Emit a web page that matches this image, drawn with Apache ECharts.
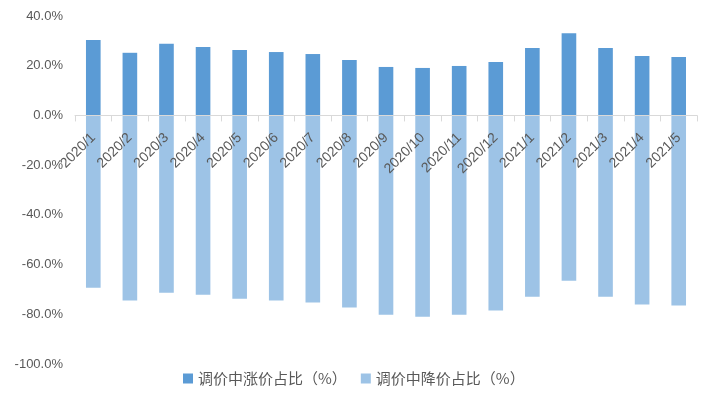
<!DOCTYPE html>
<html>
<head>
<meta charset="utf-8">
<script src="https://cdn.jsdelivr.net/npm/echarts@6/dist/echarts.min.js"></script>
<style>
  html, body { margin: 0; padding: 0; background: #fff; }
  #myChart { width: 709px; height: 397px; }
</style>
</head>
<body>
<div id="myChart"></div>
<script>
// 月份
var months = ['2020/1', '2020/2', '2020/3', '2020/4', '2020/5', '2020/6', '2020/7', '2020/8', '2020/9',
  '2020/10', '2020/11', '2020/12', '2021/1', '2021/2', '2021/3', '2021/4', '2021/5']
// 调价中涨价占比（%）
var upShare = [30.3, 25.2, 28.8, 27.5, 26.3, 25.5, 24.7, 22.3, 19.5, 19.1, 19.9, 21.5, 27.1, 33.1, 27.1, 23.9, 23.5]
// 调价中降价占比（%）
var downShare = [-69.3, -74.5, -71.3, -72.1, -73.7, -74.5, -75.3, -77.3, -80.2, -81.0, -80.2, -78.5, -72.9, -66.5, -72.9, -76.1, -76.5]
var seriesNames = ['调价中涨价占比（%）', '调价中降价占比（%）']

var myChart = echarts.init(document.getElementById('myChart'))
var option = {
  animation: false,
  textStyle: { fontFamily: '"Noto Sans CJK SC", "Liberation Sans", sans-serif' },
  grid: { left: 75, right: 12, top: 16, bottom: 33, containLabel: false, outerBoundsMode: 'none' },
  legend: {
    data: seriesNames,
    bottom: 6,
    left: 178,
    itemWidth: 10,
    itemHeight: 10,
    itemGap: 14,
    icon: 'rect',
    textStyle: { color: '#595959', fontSize: 15 }
  },
  xAxis: {
    type: 'category',
    data: months,
    offset: 0,
    z: 5,
    axisLine: { onZero: false, lineStyle: { color: '#d9d9d9', width: 1 } },
    axisTick: { show: true, alignWithLabel: false, length: 6, lineStyle: { color: '#d9d9d9' } },
    axisLabel: {
      interval: 0,
      rotate: 45,
      margin: 20,
      color: '#595959',
      fontSize: 14,
      fontFamily: '"Liberation Sans", Arial, sans-serif'
    },
    splitLine: { show: false }
  },
  yAxis: {
    type: 'value',
    min: -100,
    max: 40,
    interval: 20,
    axisLine: { show: false },
    axisTick: { show: false },
    splitLine: { show: false },
    axisLabel: {
      margin: 12,
      color: '#595959',
      fontSize: 13,
      fontFamily: '"Liberation Sans", Arial, sans-serif',
      formatter: function (v) { return v.toFixed(1) + '%' }
    }
  },
  series: [
    {
      name: seriesNames[0],
      type: 'bar',
      stack: 'share',
      barWidth: '40%',
      itemStyle: { color: '#5b9bd5' },
      data: upShare
    },
    {
      name: seriesNames[1],
      type: 'bar',
      stack: 'share',
      barWidth: '40%',
      itemStyle: { color: '#9dc3e6' },
      data: downShare
    }
  ]
}
myChart.setOption(option)

// 把横轴（含标签）整体移到 0 值处
var zeroY = myChart.convertToPixel({ yAxisIndex: 0 }, 0)
var bottomY = myChart.convertToPixel({ yAxisIndex: 0 }, -100)
myChart.setOption({ xAxis: { offset: zeroY - bottomY } })
</script>
</body>
</html>
